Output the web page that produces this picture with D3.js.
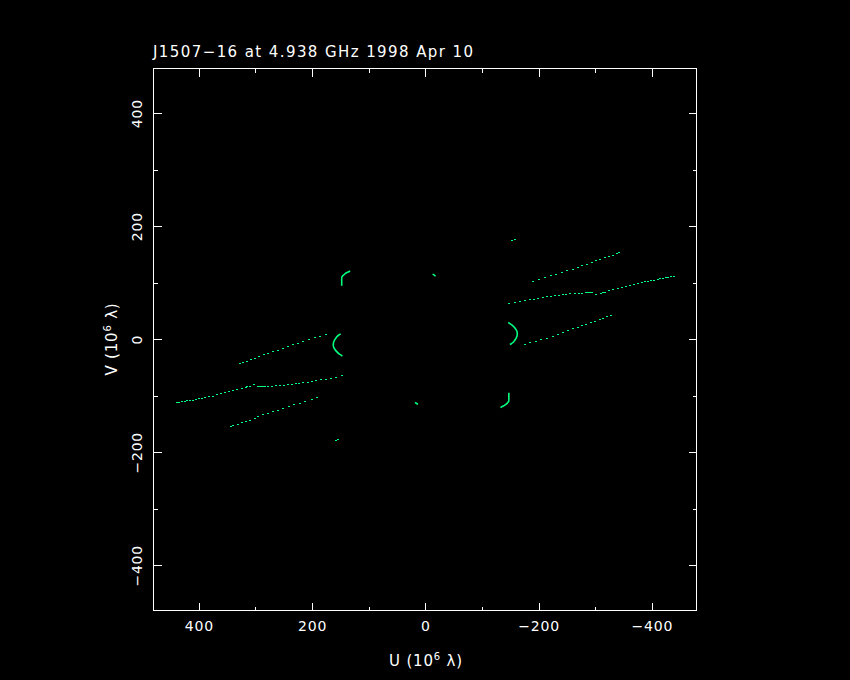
<!DOCTYPE html>
<html><head><meta charset="utf-8">
<script src="https://cdn.jsdelivr.net/npm/d3@7"></script>
<style>html,body{margin:0;background:#000;}svg{display:block;background:#000}</style>
</head><body><svg id="c" width="850" height="680"></svg>
<script>
// ---- data (units: 10^6 wavelengths); conjugate points (-u,-v) are plotted too ----
const titleText = "J1507\u221216 at 4.938 GHz 1998 Apr 10";
const uMajor = [400, 200, 0, -200, -400];
const uMinor = [300, 100, -100, -300];
const vMajor = [-400, -200, 0, 200, 400];
const vMinor = [-300, -100, 100, 300];

const trackA = [[327.2,-42.4],[321.3,-40.6],[314.3,-38.3],[308.3,-35.3],[300.1,-33.0],[293.1,-30.0],[284.2,-26.5],[277.2,-24.7],[269.4,-21.2],[260.6,-19.4],[251.8,-15.9],[242.9,-12.4],[234.1,-8.8],[225.3,-6.0],[215.4,-3.0],[204.8,0.0],[195.3,3.5],[185.4,5.3],[175.3,8.8]];
const trackB = [[438.9,-111.2],[434.3,-111.2],[429.5,-109.5],[424.8,-109.5],[420.2,-108.4],[415.4,-107.7],[410.7,-107.2],[404.8,-105.4],[399.0,-104.2],[393.7,-103.6],[388.4,-102.4],[381.9,-100.6],[375.3,-99.6],[368.3,-97.1],[361.2,-95.3],[354.2,-93.6],[347.1,-91.8],[340.0,-90.0],[331.9,-88.3],[323.6,-86.5],[316.6,-84.2],[314.3,-83.0],[309.5,-81.9],[301.9,-79.4],[294.8,-83.0],[291.8,-83.0],[288.8,-83.0],[285.9,-83.0],[283.0,-83.0],[277.2,-82.4],[271.2,-81.9],[263.6,-81.2],[256.0,-81.2],[248.9,-80.2],[242.9,-79.4],[235.9,-78.4],[228.8,-77.7],[222.5,-76.6],[215.4,-75.9],[207.6,-74.9],[199.5,-73.1],[192.4,-71.9],[184.1,-70.6],[175.3,-69.6],[167.0,-67.8],[158.2,-66.0],[147.6,-63.6]];
const trackC = [[343.0,-153.6],[339.0,-151.8],[330.7,-149.5],[323.6,-147.2],[316.6,-144.8],[309.0,-142.5],[301.2,-139.5],[294.8,-135.9],[286.0,-133.1],[277.2,-130.6],[268.9,-127.8],[260.6,-124.8],[250.7,-121.8],[240.6,-118.3],[231.3,-115.5],[221.7,-113.0],[211.9,-110.2],[200.6,-105.9],[190.7,-102.4]];
const arcTop = [[147.6,94.6],[147.6,98.9],[147.6,102.9],[147.6,107.0],[147.1,110.5],[144.8,113.0],[142.3,115.3],[140.0,117.1],[137.7,118.3],[135.2,119.4],[132.9,121.1]];
const arcMid = [[149.4,9.4],[152.4,7.6],[155.4,5.3],[157.7,2.3],[160.0,-1.2],[161.7,-4.8],[162.4,-8.3],[162.4,-11.8],[161.2,-15.4],[158.9,-18.9],[155.9,-22.4],[152.9,-25.4],[149.4,-27.7],[146.5,-30.0]];
const arcSmall = [[18.2,-111.6],[15.9,-113.3],[12.9,-115.1]];
const dotPair = [[157.9,-177.8],[153.6,-176.0]];

const dotTracks = [trackA, trackB, trackC, dotPair];
const arcTracks = [arcTop, arcMid, arcSmall];

// ---- drawing ----
const svg = d3.select("#c");
const L = 153.5, R = 696.5, T = 68.5, B = 610.5;
const x = d3.scaleLinear().domain([480, -479]).range([L, R]);
const y = d3.scaleLinear().domain([-480, 479]).range([B, T]);
const green = "#00ff7f";
const font = "'DejaVu Sans', sans-serif";

const conj = p => [-p[0], -p[1]];

// points
const g = svg.append("g");
dotTracks.forEach(tr => {
  [tr, tr.map(conj)].forEach(pts => {
    g.selectAll(null).data(pts).enter().append("rect")
      .attr("x", d => Math.round(x(d[0])) - 1)
      .attr("y", d => Math.round(y(d[1])))
      .attr("width", 2).attr("height", 1)
      .attr("fill", green).attr("shape-rendering", "crispEdges");
  });
});
const line = d3.line().x(d => x(d[0])).y(d => y(d[1])).curve(d3.curveCatmullRom);
arcTracks.forEach(tr => {
  [tr, tr.map(conj)].forEach(pts => {
    g.append("path").attr("d", line(pts)).attr("fill", "none")
      .attr("stroke", green).attr("stroke-width", 1.6);
  });
});

// frame
svg.append("rect").attr("x", L).attr("y", T).attr("width", R - L).attr("height", B - T)
  .attr("fill", "none").attr("stroke", "#fff").attr("stroke-width", 1);

function styleAxis(sel) {
  sel.select(".domain").remove();
  sel.selectAll("line").attr("stroke", "#fff").attr("shape-rendering", "crispEdges");
  sel.selectAll("text").attr("fill", "#fff").attr("font-family", font).attr("font-size", 14)
    .attr("letter-spacing", "0.8px");
}
// bottom
svg.append("g").attr("transform", `translate(0,${B})`)
  .call(d3.axisBottom(x).tickValues(uMinor).tickSizeInner(-4).tickSizeOuter(0).tickFormat(""))
  .call(styleAxis);
svg.append("g").attr("transform", `translate(0,${B})`)
  .call(d3.axisBottom(x).tickValues(uMajor).tickSizeInner(-8).tickSizeOuter(0).tickPadding(11))
  .call(styleAxis);
// top
svg.append("g").attr("transform", `translate(0,${T})`)
  .call(d3.axisTop(x).tickValues(uMinor).tickSizeInner(-4).tickSizeOuter(0).tickFormat(""))
  .call(styleAxis);
svg.append("g").attr("transform", `translate(0,${T})`)
  .call(d3.axisTop(x).tickValues(uMajor).tickSizeInner(-8).tickSizeOuter(0).tickFormat(""))
  .call(styleAxis);
// right
svg.append("g").attr("transform", `translate(${R},0)`)
  .call(d3.axisRight(y).tickValues(vMinor).tickSizeInner(-4).tickSizeOuter(0).tickFormat(""))
  .call(styleAxis);
svg.append("g").attr("transform", `translate(${R},0)`)
  .call(d3.axisRight(y).tickValues(vMajor).tickSizeInner(-8).tickSizeOuter(0).tickFormat(""))
  .call(styleAxis);
// left
svg.append("g").attr("transform", `translate(${L},0)`)
  .call(d3.axisLeft(y).tickValues(vMinor).tickSizeInner(-4).tickSizeOuter(0).tickFormat(""))
  .call(styleAxis);
const la = svg.append("g").attr("transform", `translate(${L},0)`)
  .call(d3.axisLeft(y).tickValues(vMajor).tickSizeInner(-8).tickSizeOuter(0))
  .call(styleAxis);
la.selectAll("text").attr("x", null).attr("dy", null).attr("text-anchor", "middle")
  .attr("transform", "translate(-11.5,0) rotate(-90)");

// title
svg.append("text").attr("x", 153).attr("y", 57).attr("fill", "#fff")
  .attr("font-family", font).attr("font-size", 15)
  .attr("textLength", 320).attr("lengthAdjust", "spacing").text(titleText);

// axis titles
function axisTitle(sel, main) {
  sel.attr("fill", "#fff").attr("font-family", font).attr("font-size", 15)
    .attr("letter-spacing", "0.8px").attr("text-anchor", "middle");
  sel.append("tspan").text(main + " (10");
  sel.append("tspan").attr("dy", -6).attr("font-size", 10).text("6");
  sel.append("tspan").attr("dy", 6).text(" \u03bb)");
}
svg.append("text").attr("x", 426).attr("y", 666).call(axisTitle, "U");
svg.append("text").attr("transform", "translate(117,339) rotate(-90)").call(axisTitle, "V");
</script></body></html>
